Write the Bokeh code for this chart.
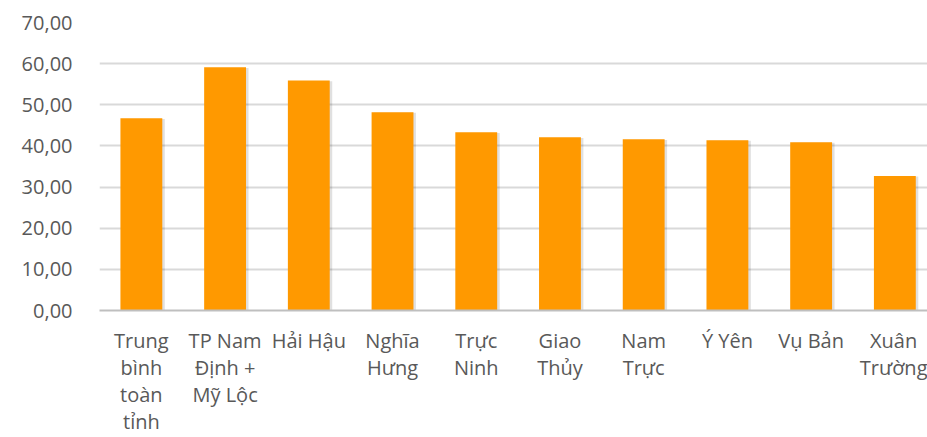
from bokeh.plotting import figure
from bokeh.models import Range1d, FixedTicker
from bokeh.embed import file_html
from bokeh.resources import INLINE

categories = ["Trung\nbình\ntoàn\ntỉnh", "TP Nam\nĐịnh +\nMỹ Lộc", "Hải Hậu", "Nghĩa\nHưng",
              "Trực\nNinh", "Giao\nThủy", "Nam\nTrực", "Ý Yên", "Vụ Bản", "Xuân\nTrường"]
values = [46.7, 59.1, 55.9, 48.2, 43.3, 42.1, 41.6, 41.4, 40.9, 32.7]
y_ticks = [0, 10, 20, 30, 40, 50, 60, 70]
y_tick_labels = ["0,00", "10,00", "20,00", "30,00", "40,00", "50,00", "60,00", "70,00"]

xs = [i + 0.5 for i in range(len(categories))]

p = figure(width=927, height=437, output_backend="svg", toolbar_location=None,
           x_range=Range1d(0, 9.89), y_range=Range1d(0, 70),
           min_border_left=99, min_border_right=0, min_border_top=22, min_border_bottom=0)
p.outline_line_color = None
p.background_fill_color = "white"

# subtle shadow
p.vbar(x=[x + 0.03 for x in xs], top=[v - 0.15 for v in values], bottom=0, width=0.5,
       fill_color="#000000", fill_alpha=0.12, line_color=None)
p.vbar(x=xs, top=values, bottom=0, width=0.5, fill_color="#FF9900", line_color=None)

p.xaxis.ticker = FixedTicker(ticks=xs)
p.xaxis.major_label_overrides = {x: c for x, c in zip(xs, categories)}
p.xaxis.major_tick_line_color = None
p.xaxis.minor_tick_line_color = None
p.xaxis.axis_line_color = "#BFBFBF"
p.xaxis.axis_line_width = 2
p.xaxis.major_label_text_font = "Open Sans"
p.xaxis.major_label_text_font_size = "20px"
p.xaxis.major_label_text_color = "#595959"
p.xaxis.major_label_text_line_height = 1.0
p.xaxis.major_label_standoff = 10

p.yaxis.ticker = FixedTicker(ticks=y_ticks)
p.yaxis.major_label_overrides = {t: l for t, l in zip(y_ticks, y_tick_labels)}
p.yaxis.major_tick_line_color = None
p.yaxis.minor_tick_line_color = None
p.yaxis.axis_line_color = None
p.yaxis.major_label_text_font = "Open Sans"
p.yaxis.major_label_text_font_size = "20px"
p.yaxis.major_label_text_color = "#595959"
p.yaxis.major_label_standoff = 21

p.xgrid.grid_line_color = None
p.ygrid.ticker = FixedTicker(ticks=y_ticks)
p.ygrid.grid_line_color = "#D9D9D9"
p.ygrid.grid_line_width = 2

open("out.html", "w").write(file_html(p, INLINE))
